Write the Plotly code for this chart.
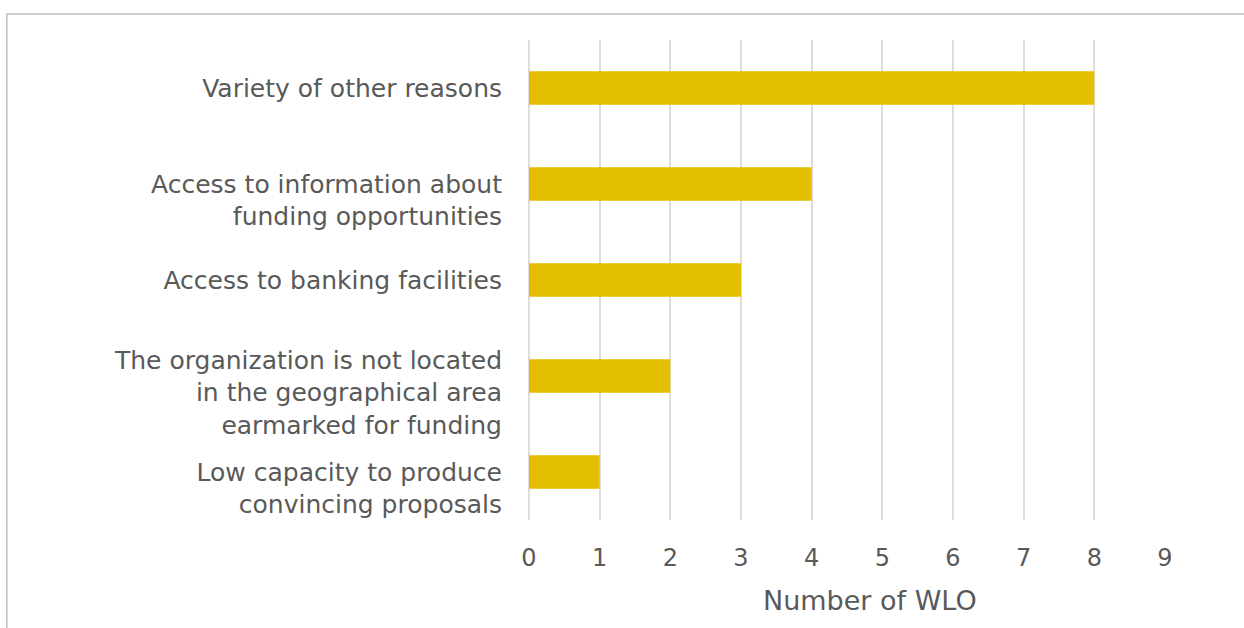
import plotly.graph_objects as go

categories = [
    "Low capacity to produce<br>convincing proposals",
    "The organization is not located<br>in the geographical area<br>earmarked for funding",
    "Access to banking facilities",
    "Access to information about<br>funding opportunities",
    "Variety of other reasons",
]
counts = [1, 2, 3, 4, 8]
tick_values = list(range(0, 10))

# Multi-line labels hang from the bar centre: a blank first line pushes the text down.
tick_text = [("<br>" + c) if "<br>" in c else c for c in categories]

TEXT = "#595959"
FONT = "DejaVu Sans"

fig = go.Figure(
    go.Bar(
        x=counts,
        y=categories,
        orientation="h",
        marker=dict(color="#E4BE00", line=dict(width=0)),
        width=0.35,
    )
)

fig.update_layout(
    width=1244,
    height=628,
    margin=dict(l=528.5, r=79, t=40, b=108),
    paper_bgcolor="white",
    plot_bgcolor="white",
    showlegend=False,
    font=dict(family=FONT, size=25, color=TEXT),
    xaxis=dict(
        range=[0, 9],
        tickvals=tick_values,
        showgrid=True,
        gridcolor="#DDDDDD",
        gridwidth=1.5,
        zeroline=True,
        zerolinecolor="#DDDDDD",
        zerolinewidth=1.5,
        showline=False,
        ticks="outside",
        ticklen=16,
        tickcolor="rgba(0,0,0,0)",
        tickfont=dict(family=FONT, size=24, color=TEXT),
    ),
    yaxis=dict(
        showgrid=False,
        zeroline=False,
        showline=False,
        ticks="",
        tickvals=categories,
        ticktext=tick_text,
        ticklabelstandoff=26,
        tickfont=dict(family=FONT, size=25, color=TEXT),
    ),
    annotations=[
        dict(
            text="Number of WLO", xref="paper", yref="paper",
            x=0.5365, y=-0.167, xanchor="center", yanchor="middle",
            showarrow=False, font=dict(family=FONT, size=27, color=TEXT),
        )
    ],
    shapes=[
        dict(
            type="rect", xref="paper", yref="paper",
            x0=-0.821, x1=2.0, y0=-1.0, y1=1.054,
            line=dict(color="#BFBFBF", width=1.5),
            fillcolor="rgba(0,0,0,0)", layer="below",
        )
    ],
)

fig.write_html("out.html")
